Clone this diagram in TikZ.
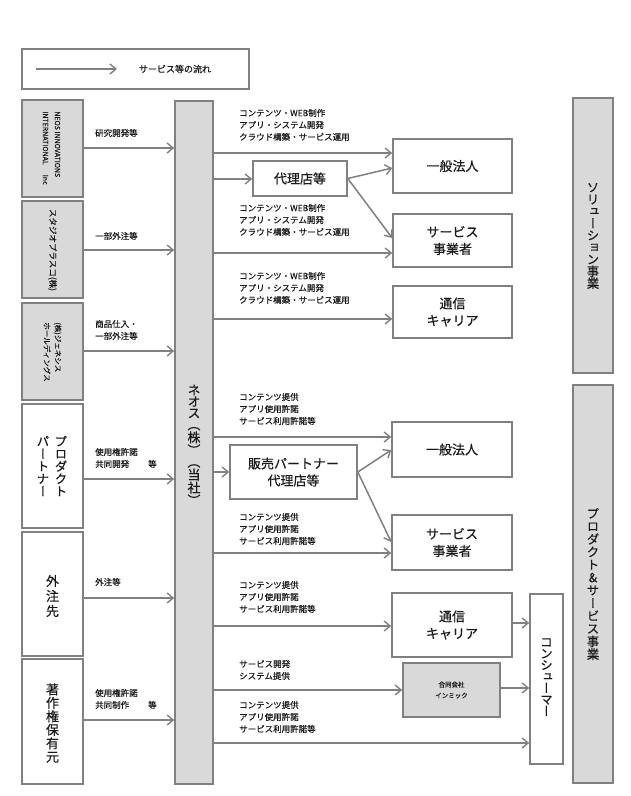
\documentclass[tikz,border=0pt]{standalone}
\usepackage{fontspec}
\usetikzlibrary{arrows.meta}
\setmainfont{Noto Sans CJK JP}
\newfontfamily\jp[FakeBold=0.4]{Noto Sans CJK JP}
\newfontfamily\vjp[RawFeature=+vert,FakeBold=0.4]{Noto Sans CJK JP}
\definecolor{lg}{HTML}{808080}
\definecolor{fg}{HTML}{D9D9D9}
\definecolor{tx}{HTML}{1A1A1A}
\newcommand\fsz[2]{\fontsize{#1}{#2}\selectfont}
\begin{document}
\begin{tikzpicture}[x=1pt,y=-1pt,
  box/.style={draw=lg, line width=1.6pt, fill=white, inner sep=0pt},
  gbox/.style={box, fill=fg},
  arr/.style={draw=lg, line width=1.5pt, -{Straight Barb[length=6pt,width=10pt,line width=1.4pt]}},
  lab/.style={font=\jp\fsz{8.5}{12}, align=left, anchor=west, inner sep=0pt, text=tx},
  btxt/.style={font=\jp\fsz{13}{17}, align=center, inner sep=0pt, text=tx},
  vt/.style={font=\vjp\fsz{12.5}{13}, align=center, inner sep=0pt, text=tx},
  rt/.style={rotate=-90, align=left, inner sep=0pt, text=tx}]
\useasboundingbox (0,0) rectangle (630,796);
\fill[white] (0,0) rectangle (630,796);

% legend
\node[box, minimum width=227pt, minimum height=40pt] (legend) at (135.5,69) {};
\coordinate (lgs) at (36,69);
\coordinate (lge) at (117,69);
\draw[arr] (lgs) -- (lge);
\node[font=\jp\fsz{9}{12}, text=tx, inner sep=0pt] (legtxt) at (175,69) {サービス等の流れ};

% left boxes
\node[gbox, minimum width=61pt, minimum height=97pt] (neosii) at (52.5,148.5) {};
\node[rt, font=\jp\fsz{7}{12}] (neosiit) at (51.5,148) {NEOS INNOVATIONS\\INTERNATIONAL\hspace{10pt}Inc};
\node[gbox, minimum width=61pt, minimum height=97pt] (studio) at (52.5,249.5) {};
\node[rt, font=\jp\fsz{8.5}{12}] (studiot) at (52.5,250) {スタジオプラスコ(株)};
\node[gbox, minimum width=61pt, minimum height=97pt] (gen) at (52.5,351.5) {};
\node[rt, font=\jp\fsz{7.5}{11}] (gent) at (52.5,352) {(株)ジェネシス\\ホールディングス};
\node[box, minimum width=61pt, minimum height=124pt] (pp) at (52.5,466) {};
\node[vt, font=\vjp\fsz{12.5}{12.5}] (pp1) at (61,466) {プ\\ロ\\ダ\\ク\\ト};
\node[vt, font=\vjp\fsz{12.5}{12.5}] (pp2) at (43,466) {パ\\ー\\ト\\ナ\\ー};
\node[box, minimum width=61pt, minimum height=124pt] (gaichu) at (52.5,594) {};
\node[vt, font=\vjp\fsz{13}{15}] (gaichut) at (52.5,596) {外\\注\\先};
\node[box, minimum width=61pt, minimum height=125pt] (chosaku) at (52.5,721.5) {};
\node[vt, font=\vjp\fsz{13}{13.5}] (chosakut) at (52.5,723) {著\\作\\権\\保\\有\\元};

% central bar
\node[gbox, minimum width=38pt, minimum height=683pt] (neos) at (194,442.5) {};
\node[vt, font=\vjp\fsz{13}{11.5}] (neost) at (194,445) {ネ\\オ\\ス\\（\\株\\）\\（\\当\\社\\）};

% left arrows and labels
\draw[arr] (neosii.east |- 0,148) -- (neos.west |- 0,148);
\node[lab] (l1) at (95,133) {研究開発等};
\draw[arr] (studio.east |- 0,250) -- (neos.west |- 0,250);
\node[lab] (l2) at (95,236) {一部外注等};
\draw[arr] (gen.east |- 0,351) -- (neos.west |- 0,351);
\node[lab] (l3) at (95,330) {商品仕入・\\一部外注等};
\draw[arr] (pp.east |- 0,479) -- (neos.west |- 0,479);
\node[lab] (l4) at (95,458) {使用権許諾\\共同開発\hspace{19pt}等};
\draw[arr] (gaichu.east |- 0,598) -- (neos.west |- 0,598);
\node[lab] (l5) at (95,582) {外注等};
\draw[arr] (chosaku.east |- 0,720) -- (neos.west |- 0,720);
\node[lab] (l6) at (95,699) {使用権許諾\\共同制作\hspace{19pt}等};

% side bars
\node[gbox, minimum width=40pt, minimum height=275pt] (sol) at (593,235.5) {};
\node[vt, font=\vjp\fsz{12.5}{12}] (solt) at (593,236) {ソ\\リ\\ュ\\ー\\シ\\ョ\\ン\\事\\業};
\node[gbox, minimum width=40pt, minimum height=398pt] (ps) at (593,584) {};
\node[vt, font=\vjp\fsz{12.5}{12.8}] (pst) at (593,584) {プ\\ロ\\ダ\\ク\\ト\\\&\\サ\\ー\\ビ\\ス\\事\\業};

% solution part
\node[box, minimum width=119pt, minimum height=54pt] (ippan1) at (452.5,166) {};
\node[btxt] at (ippan1.center) {一般法人};
\node[box, minimum width=119pt, minimum height=53pt] (serv1) at (452.5,240.5) {};
\node[btxt] at (serv1.center) {サービス\\事業者};
\node[box, minimum width=119pt, minimum height=52pt] (tsu1) at (452.5,312) {};
\node[btxt] at (tsu1.center) {通信\\キャリア};
\node[box, minimum width=94pt, minimum height=35pt] (dairi) at (300,178.5) {};
\node[btxt] at (dairi.center) {代理店等};

\node[lab] (r1) at (239,125) {コンテンツ・WEB制作\\アプリ・システム開発\\クラウド構築・サービス運用};
\draw[arr] (neos.east |- 0,153) -- (ippan1.west |- 0,153);
\draw[arr] (neos.east |- 0,179) -- (dairi.west |- 0,179);
\draw[arr] (dairi.east) -- (ippan1.west |- 0,168);
\draw[arr] (dairi.east) -- (serv1.west |- 0,238);
\node[lab] (r2) at (239,220) {コンテンツ・WEB制作\\アプリ・システム開発\\クラウド構築・サービス運用};
\draw[arr] (neos.east |- 0,253) -- (serv1.west |- 0,253);
\node[lab] (r3) at (239,288) {コンテンツ・WEB制作\\アプリ・システム開発\\クラウド構築・サービス運用};
\draw[arr] (neos.east |- 0,319) -- (tsu1.west |- 0,319);

% product part
\node[box, minimum width=120pt, minimum height=55pt] (ippan2) at (452,449.5) {};
\node[btxt] at (ippan2.center) {一般法人};
\node[box, minimum width=120pt, minimum height=55pt] (serv2) at (452,542.5) {};
\node[btxt] at (serv2.center) {サービス\\事業者};
\node[box, minimum width=120pt, minimum height=64pt] (tsu2) at (452,625) {};
\node[btxt] at (tsu2.center) {通信\\キャリア};
\node[box, minimum width=127pt, minimum height=54pt] (hanbai) at (293.5,472) {};
\node[btxt] at (hanbai.center) {販売パートナー\\代理店等};
\node[gbox, minimum width=97pt, minimum height=54pt] (inmic) at (451.5,690) {};
\node[font=\jp\fsz{6.5}{11}, align=center, text=tx, inner sep=0pt] at (inmic.center) {合同会社\\インミック};
\node[box, minimum width=33pt, minimum height=170pt] (cons) at (546.5,679) {};
\node[vt, font=\vjp\fsz{12.5}{11.5}] (const) at (546.5,677) {コ\\ン\\シ\\ュ\\ー\\マ\\ー};

\node[lab] (r4) at (239,409) {コンテンツ提供\\アプリ使用許諾\\サービス利用許諾等};
\draw[arr] (neos.east |- 0,437) -- (ippan2.west |- 0,437);
\draw[arr] (neos.east |- 0,472) -- (hanbai.west |- 0,472);
\draw[arr] (hanbai.east) -- (ippan2.west |- 0,450);
\draw[arr] (hanbai.east) -- (serv2.west |- 0,542);
\node[lab] (r5) at (239,529) {コンテンツ提供\\アプリ使用許諾\\サービス利用許諾等};
\draw[arr] (neos.east |- 0,553) -- (serv2.west |- 0,553);
\node[lab] (r6) at (239,597) {コンテンツ提供\\アプリ使用許諾\\サービス利用許諾等};
\draw[arr] (neos.east |- 0,626) -- (tsu2.west |- 0,626);
\node[lab] (r7) at (239,670) {サービス開発\\システム提供};
\draw[arr] (neos.east |- 0,690) -- (inmic.west |- 0,690);
\node[lab] (r8) at (239,717) {コンテンツ提供\\アプリ使用許諾\\サービス利用許諾等};
\draw[arr] (neos.east |- 0,743) -- (cons.west |- 0,743);
\draw[arr] (tsu2.east |- 0,623) -- (cons.west |- 0,623);
\draw[arr] (inmic.east |- 0,688) -- (cons.west |- 0,688);
\end{tikzpicture}
\end{document}
